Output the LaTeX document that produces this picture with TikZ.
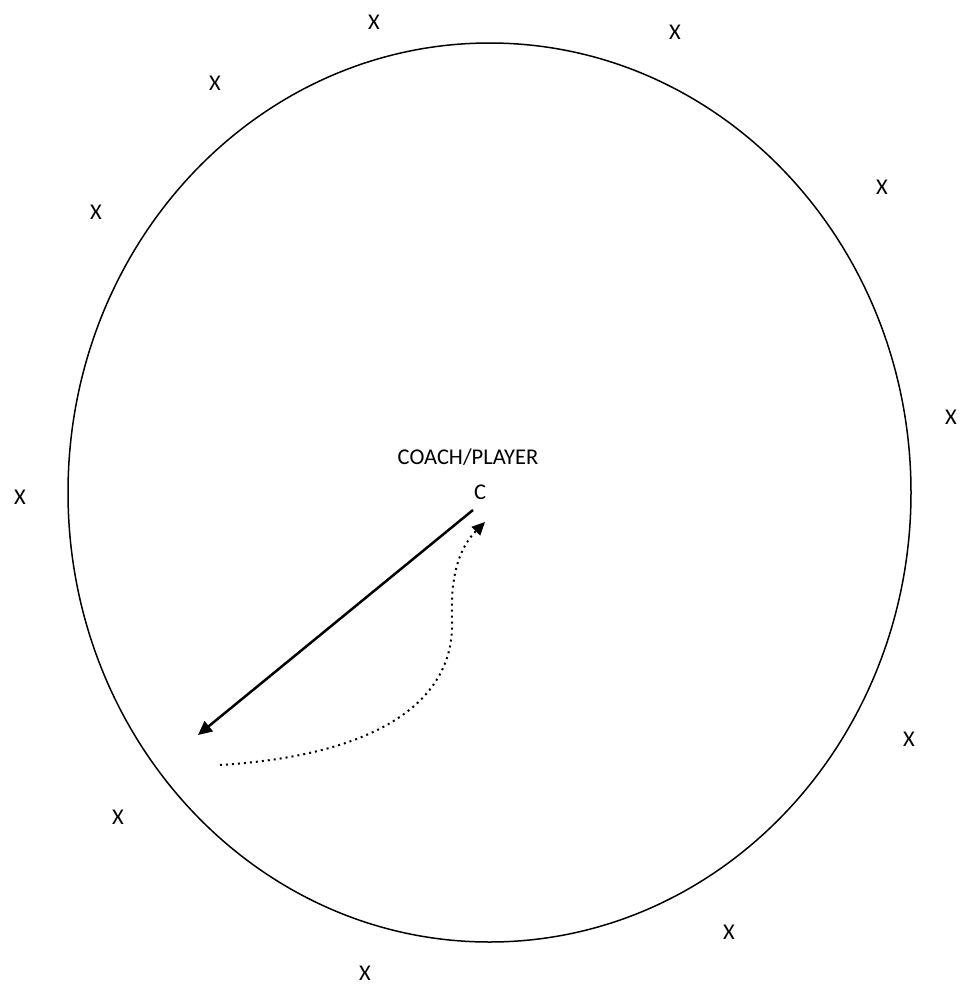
\documentclass[tikz,border=0pt]{standalone}
\usepackage{fontspec}
\setmainfont{Carlito}
\usetikzlibrary{positioning, arrows.meta}

\begin{document}
\begin{tikzpicture}[
        x=1pt, y=-1pt,
        font=\fontsize{22.5}{26}\selectfont,
        player/.style={inner sep=0pt, anchor=center},
        field/.style={draw, line width=1.5pt},
        pass/.style={-{Triangle[length=14pt, width=13pt]}, line width=2.5pt},
        run/.style={-{Triangle[length=13pt, width=12pt]}, line width=2pt, dash pattern=on 2pt off 4pt}
    ]
        \useasboundingbox (0,0) rectangle (962,985);

        % Field
        \draw [field] (489.5,492.5) ellipse [x radius=421.5, y radius=449.5];

        % Nodes
        \node [player] (coachlabel) at (468,457) {COACH/PLAYER};
        \node [player] (coach) at (480,492) {C};
        \coordinate (passstart) at (473,510);
        \coordinate (passend) at (198,735);
        \coordinate (runstart) at (220,765);
        \coordinate (runend) at (485,522);

        \node [player] (p1) at (374,22) {X};
        \node [player] (p2) at (675,32) {X};
        \node [player] (p3) at (215,83) {X};
        \node [player] (p4) at (882,187) {X};
        \node [player] (p5) at (96,212) {X};
        \node [player] (p6) at (951,417) {X};
        \node [player] (p7) at (20,497) {X};
        \node [player] (p8) at (909,739) {X};
        \node [player] (p9) at (118,817) {X};
        \node [player] (p10) at (729,932) {X};
        \node [player] (p11) at (365,973) {X};

        % Edges
        \draw [pass] (passstart) -- (passend);
        \draw [run] (runstart) .. controls (380,755) and (455,700) .. (452,620)
                    .. controls (450,570) and (462,545) .. (runend);

\end{tikzpicture}
\end{document}
